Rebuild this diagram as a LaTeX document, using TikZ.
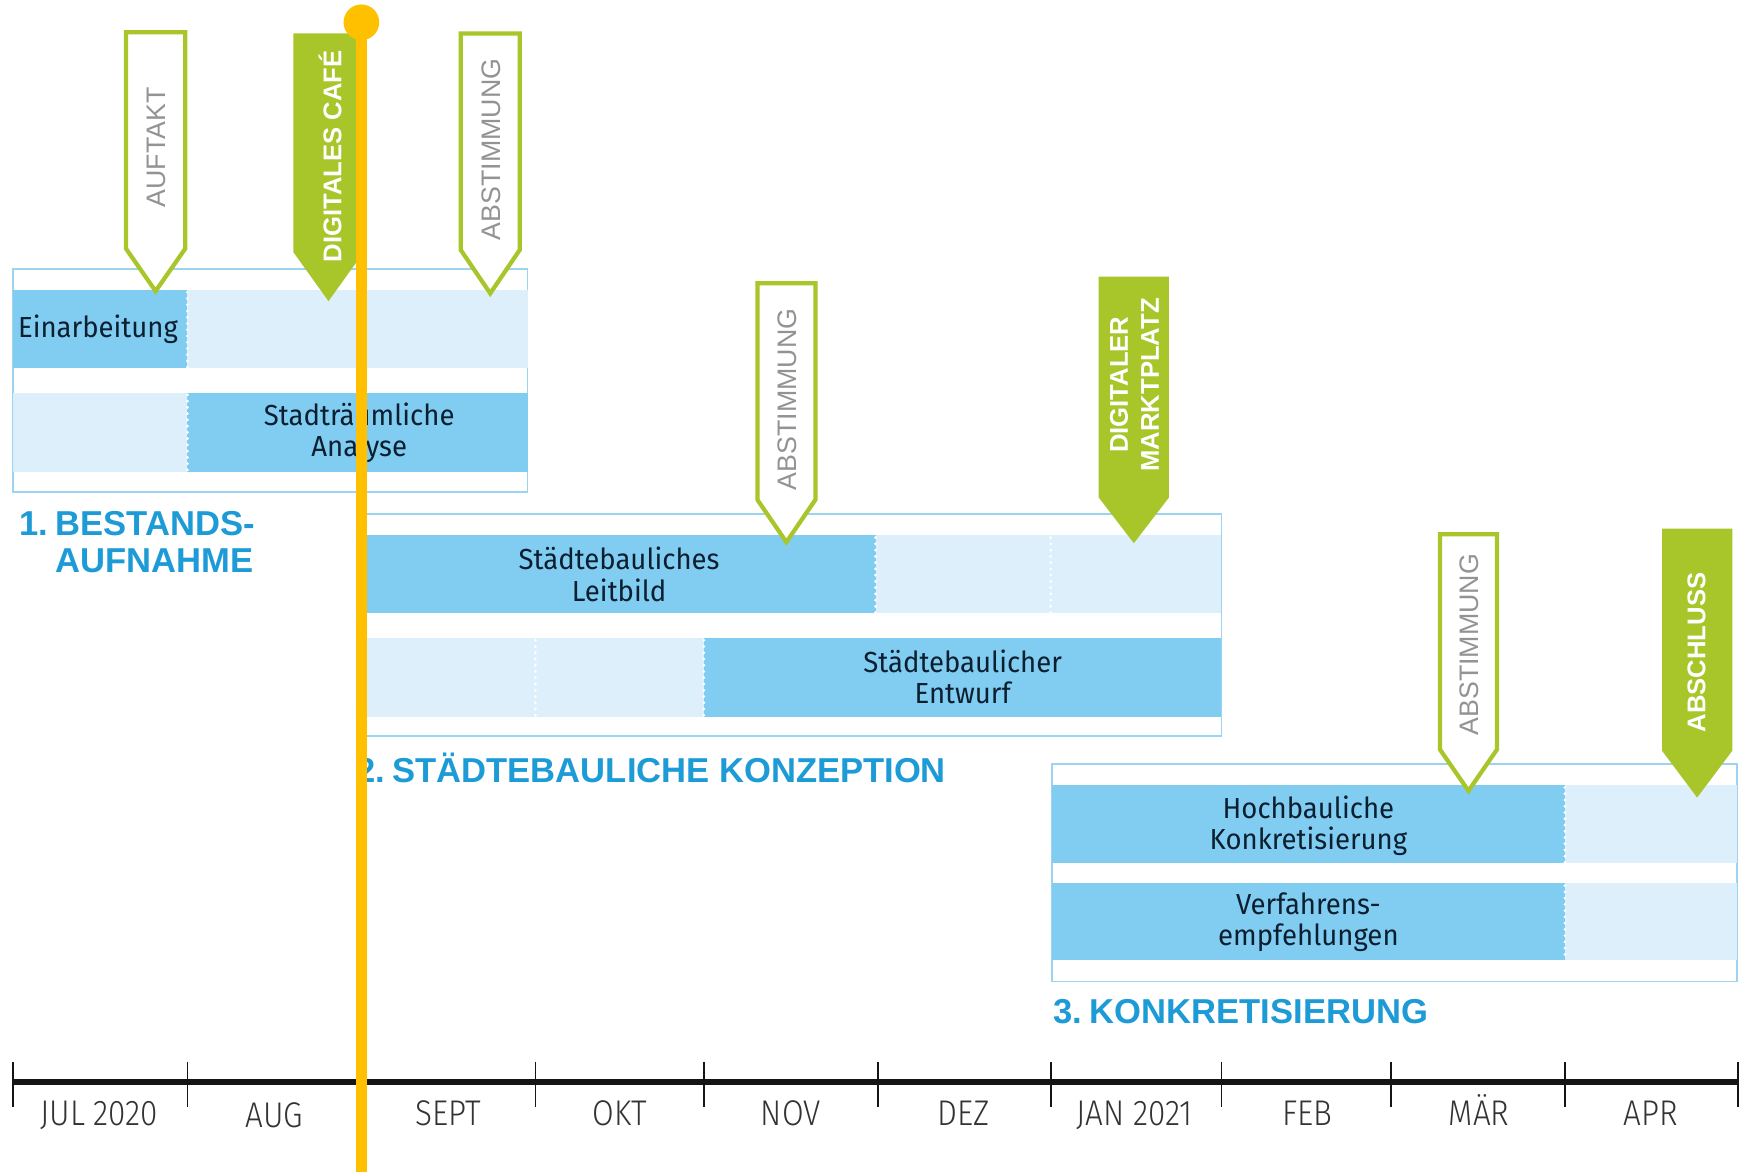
\documentclass[tikz,border=0pt]{standalone}
\usepackage{fontspec}
\setmainfont{Liberation Sans}
\newfontfamily\flagfont{Liberation Sans}
\newfontfamily\boxfont[FakeStretch=0.95]{Fira Sans}
\IfFontExistsTF{Fira Sans Light}
  {\newfontfamily\monthfont[FakeStretch=0.88]{Fira Sans Light}}
  {\newfontfamily\monthfont[FakeStretch=0.88]{Fira Sans}}
\definecolor{barDark}{HTML}{80CDF1}
\definecolor{barLight}{HTML}{DDEFFB}
\definecolor{frameBlue}{HTML}{9CD3EE}
\definecolor{titleBlue}{HTML}{1D9BD7}
\definecolor{flagGreen}{HTML}{A8C52A}
\definecolor{flagGray}{HTML}{939393}
\definecolor{txtDark}{HTML}{0C1F30}
\definecolor{monthGray}{HTML}{333333}
\definecolor{lineYellow}{HTML}{FFC000}
\definecolor{axisBlack}{HTML}{151515}
\begin{document}
\begin{tikzpicture}[x=1pt,y=-1pt,
  dark/.style={fill=barDark},
  light/.style={fill=barLight},
  frm/.style={draw=frameBlue, line width=1.6pt, fill=white},
  dots/.style={draw=white, line width=2.8pt, line cap=round, dash pattern=on 0pt off 5.6pt},
  boxtext/.style={font=\boxfont\fontsize{26}{28}\selectfont, text=txtDark, align=center, inner sep=0pt},
  phasetitle/.style={font=\bfseries\fontsize{31}{34}\selectfont, text=titleBlue, inner sep=0pt, anchor=west, align=left},
  hollowflag/.style={draw=flagGreen, line width=3.8pt, fill=white, line join=miter},
  fullflag/.style={fill=flagGreen},
  flagtxt/.style={font=\flagfont\fontsize{24}{26}\selectfont, text=flagGray, rotate=90, inner sep=0pt},
  flagtxtw/.style={font=\flagfont\bfseries\fontsize{23}{28}\selectfont, text=white, rotate=90, inner sep=0pt, align=center},
  month/.style={font=\monthfont\fontsize{32}{34}\selectfont, text=monthGray, inner sep=0pt, anchor=base},
  tick/.style={draw=axisBlack, line width=1.6pt},
]
\useasboundingbox[fill=white] (0,0) rectangle (1568,1051);

% ---------- Phase 1 ----------
\draw[frm] (12,241) rectangle (473,441);
\fill[dark]  (12,260) rectangle (168,330);
\fill[light] (168,260) rectangle (473,330);
\fill[light] (12,352) rectangle (168,423);
\fill[dark]  (168,352) rectangle (473,423);
\draw[dots] (168,262) -- (168,330);
\draw[dots] (168,354) -- (168,423);
\node[boxtext, anchor=west] (einarb) at (16,295) {Einarbeitung};
\node[boxtext] (analyse) at (322,388) {Stadträumliche\\Analyse};
\node[phasetitle] (ph1) at (17,486) {1.\kern7pt BESTANDS-\\\hphantom{1.\kern7pt}AUFNAHME};

% ---------- Phase 2 ----------
\draw[frm] (322,461) rectangle (1095,660);
\fill[dark]  (322,480) rectangle (785,550);
\fill[light] (785,480) rectangle (1095,550);
\fill[light] (322,572) rectangle (631,643);
\fill[dark]  (631,572) rectangle (1095,643);
\draw[dots] (785,482) -- (785,550);
\draw[dots] (942,482) -- (942,550);
\draw[dots] (480,574) -- (480,643);
\draw[dots] (631,574) -- (631,643);
\node[boxtext] (leitbild) at (555,515) {Städtebauliches\\Leitbild};
\node[boxtext] (entwurf) at (863,607) {Städtebaulicher\\Entwurf};
\node[phasetitle] (ph2) at (319,688) {2.\kern7pt STÄDTEBAULICHE KONZEPTION};

% ---------- Phase 3 ----------
\draw[frm] (943,685) rectangle (1557,880);
\fill[dark]  (943,704) rectangle (1403,774);
\fill[light] (1403,704) rectangle (1557,774);
\fill[dark]  (943,792) rectangle (1403,861);
\fill[light] (1403,792) rectangle (1557,861);
\draw[dots] (1403,706) -- (1403,774);
\draw[dots] (1403,794) -- (1403,861);
\node[boxtext] (hochbau) at (1173,740) {Hochbauliche\\Konkretisierung};
\node[boxtext] (verfahren) at (1173,827) {Verfahrens-\\empfehlungen};
\node[phasetitle] (ph3) at (944,907) {3.\kern7pt KONKRETISIERUNG};

% ---------- Milestone flags ----------
\draw[hollowflag] (113,29) -- (166,29) -- (166,223) -- (139.5,261) -- (113,223) -- cycle;
\node[flagtxt] (auftakt) at (140,132) {AUFTAKT};
\fill[fullflag] (263,30) -- (326,30) -- (326,226) -- (294.5,270) -- (263,226) -- cycle;
\node[flagtxtw] (cafe) at (296,140) {DIGITALES CAFÉ};
\draw[hollowflag] (413,30) -- (466,30) -- (466,224) -- (439.5,263) -- (413,224) -- cycle;
\node[flagtxt] (abst1) at (440,134) {ABSTIMMUNG};
\draw[hollowflag] (679,254) -- (731,254) -- (731,448) -- (705,486) -- (679,448) -- cycle;
\node[flagtxt] (abst2) at (706,358) {ABSTIMMUNG};
\fill[fullflag] (985,248) -- (1048,248) -- (1048,446) -- (1016.5,487) -- (985,446) -- cycle;
\node[flagtxtw] (markt) at (1017,345) {DIGITALER\\MARKTPLATZ};
\draw[hollowflag] (1291,479) -- (1342,479) -- (1342,672) -- (1316.5,709) -- (1291,672) -- cycle;
\node[flagtxt] (abst3) at (1317,578) {ABSTIMMUNG};
\fill[fullflag] (1490,474) -- (1553,474) -- (1553,673) -- (1521.5,715) -- (1490,673) -- cycle;
\node[flagtxtw] (abschluss) at (1521,585) {ABSCHLUSS};

% ---------- Time axis ----------
\draw[draw=axisBlack, line width=5pt] (12,970) -- (1558,970);
\foreach \x in {12,168,324,480,631,787,942,1095,1247,1403,1558}
  \draw[tick] (\x,952) -- (\x,992);
\node[month] (m1)  at (89,1009)   {JUL 2020};
\node[month] (m2)  at (246,1011)  {AUG};
\node[month] (m3)  at (402,1009)  {SEPT};
\node[month] (m4)  at (556,1009)  {OKT};
\node[month] (m5)  at (709,1009)  {NOV};
\node[month] (m6)  at (864,1009)  {DEZ};
\node[month] (m7)  at (1017,1009) {JAN 2021};
\node[month] (m8)  at (1172,1009) {FEB};
\node[month] (m9)  at (1326,1009) {MÄR};
\node[month] (m10) at (1480,1009) {APR};

% ---------- Today marker ----------
\coordinate (todaytop) at (324,20);
\coordinate (todaybot) at (324,1051);
\draw[draw=lineYellow, line width=10pt] (todaytop) -- (todaybot);
\fill[lineYellow] (todaytop) circle[radius=16];
\end{tikzpicture}
\end{document}
